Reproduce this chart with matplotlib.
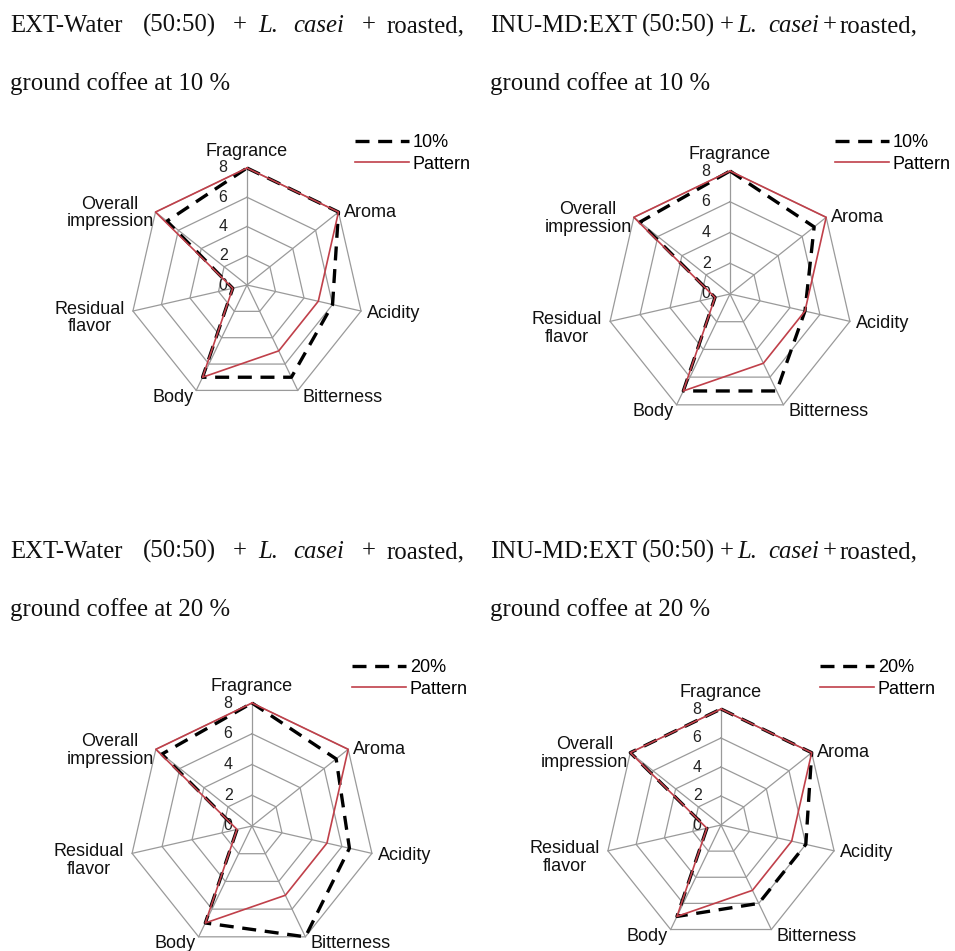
import numpy as np
import matplotlib
matplotlib.use("Agg")
import matplotlib.pyplot as plt
from matplotlib.lines import Line2D

# ---- data -------------------------------------------------------------
attributes = ["Fragrance", "Aroma", "Acidity", "Bitterness", "Body",
              "Residual\nflavor", "Overall\nimpression"]
scale_ticks = [0, 2, 4, 6, 8]

pattern = [8, 8, 5, 5, 7, 1, 8]
ext_water_10 = [8, 8, 6, 7, 7, 1, 7]
inu_md_10 = [8, 7, 5, 7, 7, 1, 7.5]
ext_water_20 = [8, 7, 6.5, 8, 7, 1, 7.5]
inu_md_20 = [8, 8, 6, 6, 7, 1, 8]

sample_labels = ["10%", "10%", "20%", "20%"]
pattern_label = "Pattern"

title_line1_left = [("EXT-Water", False), ("(50:50)", False), ("+", False),
                    ("L.", True), ("casei", True), ("+", False), ("roasted,", False)]
title_line1_right = [("INU-MD:EXT", False), ("(50:50)", False), ("+", False),
                     ("L.", True), ("casei", True), ("+", False), ("roasted,", False)]
title_line2 = ["ground coffee at 10 %", "ground coffee at 10 %",
               "ground coffee at 20 %", "ground coffee at 20 %"]

# ---- layout (pixels) --------------------------------------------------
W, H = 955, 951
fig = plt.figure(figsize=(W / 100, H / 100), dpi=100)
fig.patch.set_facecolor("white")

SERIF = "Liberation Serif"
SANS = "Liberation Sans"

panels = [
    dict(values=ext_water_10, label=sample_labels[0], center=(247, 285), R=117,
         legend=(355, 134), words=title_line1_left,
         word_x=[10, 143, 233, 258, 293, 362, 387], x0=10, y1=32, y2=90,
         line2=title_line2[0]),
    dict(values=inu_md_10, label=sample_labels[1], center=(730, 294), R=123,
         legend=(835, 134), words=title_line1_right,
         word_x=[490, 642, 720, 737, 768, 823, 840], x0=490, y1=32, y2=90,
         line2=title_line2[1]),
    dict(values=ext_water_20, label=sample_labels[2], center=(252, 826), R=123,
         legend=(352, 659), words=title_line1_left,
         word_x=[10, 143, 233, 258, 293, 362, 387], x0=10, y1=558, y2=616,
         line2=title_line2[2]),
    dict(values=inu_md_20, label=sample_labels[3], center=(721, 825), R=116,
         legend=(820, 659), words=title_line1_right,
         word_x=[490, 642, 720, 737, 768, 823, 840], x0=490, y1=558, y2=616,
         line2=title_line2[3]),
]

GRID = "#9a9a9a"
RED = "#c0404a"
PX = 72 / 100  # points per pixel

# offsets (pixels) of each category label from its outer vertex
label_offsets = [(0, 8), (5, 0), (6, -2), (5, -7), (-3, -7), (-8, -7), (-2, -1)]
label_align = [("center", "bottom"), ("left", "center"), ("left", "center"),
               ("left", "center"), ("right", "center"), ("right", "center"),
               ("right", "center")]

n = len(attributes)
theta = np.linspace(0, 2 * np.pi, n, endpoint=False)
theta_c = np.append(theta, theta[0])

for p in panels:
    cx, cy = p["center"]
    R = p["R"]
    rect = [(cx - R) / W, (H - (cy + R)) / H, 2 * R / W, 2 * R / H]
    ax = fig.add_axes(rect, projection="polar")
    ax.set_theta_offset(np.pi / 2)
    ax.set_theta_direction(-1)
    ax.set_ylim(0, scale_ticks[-1])
    ax.set_axis_off()

    # heptagonal grid
    for r in scale_ticks[1:]:
        ax.plot(theta_c, [r] * (n + 1), color=GRID, lw=0.9, clip_on=False, zorder=1)
    for t in theta:
        ax.plot([t, t], [0, scale_ticks[-1]], color=GRID, lw=0.9, clip_on=False, zorder=1)

    # scale labels along the first spoke
    for r in scale_ticks:
        ax.annotate(str(r), xy=(0, r), xytext=(-14, 0), textcoords="offset points",
                    ha="right", va="center", fontsize=11.5, family=SANS,
                    color="#222222", annotation_clip=False, zorder=2)

    # category labels
    for t, name, (dx, dy), (ha, va) in zip(theta, attributes, label_offsets, label_align):
        ax.annotate(name, xy=(t, scale_ticks[-1]), xytext=(dx * PX, dy * PX),
                    textcoords="offset points", ha=ha, va=va,
                    multialignment="center", fontsize=13, family=SANS,
                    color="#111111", annotation_clip=False, linespacing=1.05)

    vals = list(p["values"]) + [p["values"][0]]
    pat = list(pattern) + [pattern[0]]
    ax.plot(theta_c, vals, color="black", lw=2.4, ls=(0, (4.2, 2.6)),
            clip_on=False, zorder=3)
    ax.plot(theta_c, pat, color=RED, lw=1.2, clip_on=False, zorder=4)

    handles = [Line2D([], [], color="black", lw=2.4, ls=(0, (4.2, 2.6))),
               Line2D([], [], color=RED, lw=1.2)]
    lx, ly = p["legend"]
    ax.legend(handles, [p["label"], pattern_label], loc="upper left",
              bbox_to_anchor=(lx / W, 1 - ly / H), bbox_transform=fig.transFigure,
              frameon=False, borderpad=0, borderaxespad=0, handlelength=3.0,
              handletextpad=0.2, labelspacing=0.25,
              prop=dict(family=SANS, size=13))

    # panel caption
    for (word, italic), x in zip(p["words"], p["word_x"]):
        fig.text(x / W, 1 - p["y1"] / H, word, family=SERIF, fontsize=17.8,
                 style="italic" if italic else "normal", va="baseline", ha="left",
                 color="#111111")
    fig.text(p["x0"] / W, 1 - p["y2"] / H, p["line2"], family=SERIF, fontsize=17.8,
             va="baseline", ha="left", color="#111111")

fig.savefig("out.png", dpi=100, facecolor="white")
